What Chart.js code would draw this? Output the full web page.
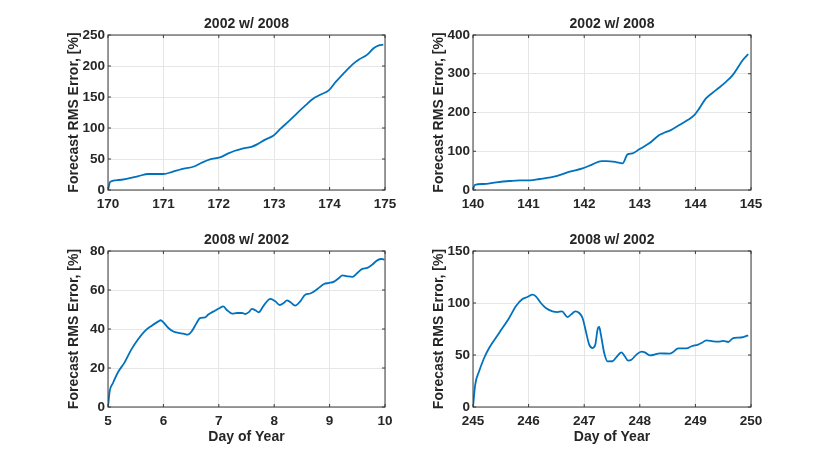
<!DOCTYPE html>
<html>
<head>
<meta charset="utf-8">
<script src="https://cdn.jsdelivr.net/npm/chart.js@4.4.1/dist/chart.umd.min.js"></script>
<style>
  html, body { margin: 0; padding: 0; background: #ffffff; }
  body { width: 830px; height: 457px; position: relative; overflow: hidden; }
  .box { position: absolute; }
  canvas { display: block; }
</style>
</head>
<body>
<div class="box" id="b0"><canvas id="c0"></canvas></div>
<div class="box" id="b1"><canvas id="c1"></canvas></div>
<div class="box" id="b2"><canvas id="c2"></canvas></div>
<div class="box" id="b3"><canvas id="c3"></canvas></div>
<script>
// ---------------- DATA ----------------
const titles = ['2002 w/ 2008', '2002 w/ 2008', '2008 w/ 2002', '2008 w/ 2002'];
const yLabel = 'Forecast RMS Error, [%]';
const xLabel = 'Day of Year';

// Top-left: 2002 w/ 2008
const tlDays = [170, 170.04, 170.19, 170.37, 170.55, 170.73, 170.85, 171.0, 171.15, 171.33, 171.54, 171.69, 171.84, 172.02, 172.17, 172.29, 172.41, 172.59, 172.7, 172.82, 172.99, 173.12, 173.27, 173.42, 173.57, 173.69, 173.84, 173.99, 174.11, 174.26, 174.41, 174.53, 174.68, 174.8, 174.89, 174.97];
const tlErr  = [0, 13.4, 16.1, 18.8, 22.5, 25.8, 25.8, 25.8, 29, 33.8, 37.5, 44, 49.4, 52.6, 59, 63.3, 66.5, 69.7, 74, 80.5, 88, 99.3, 111.6, 124.5, 136.8, 146.5, 154, 161, 174.3, 188.8, 202.3, 210.4, 218.4, 229, 233.4, 234.5];
const tlXTicks = [170, 171, 172, 173, 174, 175];
const tlYTicks = [0, 50, 100, 150, 200, 250];

// Top-right: 2002 w/ 2008
const trDays = [140, 140.03, 140.18, 140.42, 140.66, 140.84, 141.02, 141.2, 141.5, 141.74, 141.97, 142.15, 142.31, 142.4, 142.57, 142.69, 142.78, 142.87, 142.99, 143.17, 143.35, 143.44, 143.56, 143.71, 143.86, 143.98, 144.07, 144.19, 144.37, 144.55, 144.67, 144.79, 144.85, 144.95];
const trErr  = [0, 12.9, 15.5, 19.8, 23.2, 25, 25, 28.4, 36, 47.2, 55.8, 66.2, 74.7, 74.7, 72.2, 68.8, 92, 94.6, 104.9, 120.4, 141.8, 147.7, 154.6, 167.5, 180.4, 193.3, 210.6, 236.3, 257.7, 279.1, 296.4, 322.2, 335, 350.5];
const trXTicks = [140, 141, 142, 143, 144, 145];
const trYTicks = [0, 100, 200, 300, 400];

// Bottom-left: 2008 w/ 2002
const blDays = [5, 5.03, 5.09, 5.18, 5.3, 5.42, 5.54, 5.66, 5.79, 5.91, 5.95, 6.0, 6.09, 6.18, 6.27, 6.36, 6.44, 6.51, 6.6, 6.66, 6.75, 6.81, 6.93, 7.02, 7.08, 7.14, 7.24, 7.33, 7.42, 7.48, 7.54, 7.6, 7.66, 7.72, 7.81, 7.93, 8.02, 8.1, 8.17, 8.23, 8.29, 8.38, 8.47, 8.56, 8.65, 8.78, 8.9, 8.99, 9.08, 9.17, 9.23, 9.32, 9.41, 9.5, 9.59, 9.68, 9.77, 9.86, 9.94, 9.99];
const blErr  = [0, 8, 12.3, 17.8, 22.9, 29.4, 34.6, 38.8, 41.7, 43.9, 44.5, 43.4, 40.5, 38.7, 38, 37.6, 37.1, 38.8, 43.1, 45.6, 46, 47.4, 49.4, 50.8, 51.6, 49.9, 47.9, 48.2, 48.2, 47.7, 48.6, 50.3, 49.6, 48.6, 52, 55.4, 54.2, 52.3, 53.3, 54.7, 53.8, 52, 54.2, 57.6, 58.2, 60.5, 63.1, 63.6, 64.3, 66.2, 67.5, 67, 66.7, 68.7, 70.8, 71.3, 73, 75.2, 75.9, 75.6];
const blXTicks = [5, 6, 7, 8, 9, 10];
const blYTicks = [0, 20, 40, 60, 80];

// Bottom-right: 2008 w/ 2002
const brDays = [245, 245.04, 245.11, 245.2, 245.29, 245.47, 245.65, 245.77, 245.89, 245.98, 246.07, 246.13, 246.22, 246.31, 246.43, 246.52, 246.6, 246.7, 246.76, 246.84, 246.91, 246.97, 247.03, 247.09, 247.15, 247.2, 247.24, 247.27, 247.3, 247.36, 247.42, 247.51, 247.58, 247.67, 247.73, 247.79, 247.85, 247.94, 248.03, 248.09, 248.18, 248.24, 248.36, 248.54, 248.6, 248.69, 248.84, 248.93, 249.05, 249.11, 249.2, 249.32, 249.41, 249.5, 249.59, 249.68, 249.77, 249.86, 249.95];
const brErr  = [0, 21.5, 34.3, 47.1, 56.7, 71.2, 85.6, 96.8, 103.8, 105.8, 108, 106.4, 100, 95.2, 92, 91.3, 92, 86.5, 88.8, 92, 90.4, 85.6, 72.8, 60, 56.7, 60, 74.4, 76.9, 69.6, 51.9, 43.9, 44, 48, 52.6, 48.8, 44.6, 45.5, 50.4, 53.3, 52.6, 49.7, 50, 51.6, 51.3, 52.9, 56.4, 56.4, 58.4, 60, 61.5, 64.1, 63.2, 62.9, 63.5, 62.5, 66.3, 66.7, 67.3, 68.9];
const brXTicks = [245, 246, 247, 248, 249, 250];
const brYTicks = [0, 50, 100, 150];

// ---------------- LAYOUT ----------------
const FONT = 'Liberation Sans, Arial, Helvetica, sans-serif';
const TXT = '#262626';
const LINE = '#0072BD';
const GRID = '#e6e6e6';
const BOX = '#3a3a3a';
const SIDE = 108; // symmetric canvas margin so the title centres over the plot

const panels = [
  {days: tlDays, err: tlErr, xt: tlXTicks, yt: tlYTicks, top: 0,   h: 225, p: [108, 35, 385, 190], xTitle: false},
  {days: trDays, err: trErr, xt: trXTicks, yt: trYTicks, top: 0,   h: 225, p: [473, 35, 751, 190], xTitle: false},
  {days: blDays, err: blErr, xt: blXTicks, yt: blYTicks, top: 225, h: 232, p: [108, 251, 385, 407], xTitle: true},
  {days: brDays, err: brErr, xt: brXTicks, yt: brYTicks, top: 225, h: 232, p: [473, 251, 751, 407], xTitle: true}
];

const boxPlugin = {
  id: 'matlabBox',
  afterDraw(chart) {
    const {ctx, chartArea: {left, right, top, bottom}} = chart;
    const xs = chart.scales.x, ys = chart.scales.y;
    ctx.save();
    ctx.strokeStyle = BOX;
    ctx.lineWidth = 1;
    ctx.strokeRect(left, top, right - left, bottom - top);
    const L = 3;
    ctx.beginPath();
    xs.ticks.forEach(t => {
      const px = xs.getPixelForValue(t.value);
      ctx.moveTo(px, bottom); ctx.lineTo(px, bottom - L);
      ctx.moveTo(px, top); ctx.lineTo(px, top + L);
    });
    ys.ticks.forEach(t => {
      const py = ys.getPixelForValue(t.value);
      ctx.moveTo(left, py); ctx.lineTo(left + L, py);
      ctx.moveTo(right, py); ctx.lineTo(right - L, py);
    });
    ctx.stroke();
    ctx.restore();
  }
};

panels.forEach((P, i) => {
  const [px1, py1, px2, py2] = P.p;
  const cx = px1 - SIDE, cy = P.top, cw = (px2 - px1) + 2 * SIDE, ch = P.h;
  const box = document.getElementById('b' + i);
  box.style.left = cx + 'px'; box.style.top = cy + 'px';
  box.style.width = cw + 'px'; box.style.height = ch + 'px';
  const cv = document.getElementById('c' + i);
  cv.width = cw; cv.height = ch;
  cv.style.width = cw + 'px'; cv.style.height = ch + 'px';

  const titleLH = 14 * 1.2;
  const titleTop = (py1 - 10.5 - titleLH / 2) - cy;
  const titleBottom = (py1 - cy) - titleTop - titleLH;
  const yTitleTop = (px1 - 34) - cx - titleLH / 2;
  const xTitleBottom = (cy + ch) - 437 - titleLH / 2;

  new Chart(cv, {
    type: 'scatter',
    data: {
      datasets: [{
        data: P.days.map((d, k) => ({x: d, y: P.err[k]})),
        showLine: true,
        borderColor: LINE,
        backgroundColor: LINE,
        borderWidth: 1.8,
        pointRadius: 0,
        pointHoverRadius: 0,
        cubicInterpolationMode: 'monotone',
        fill: false
      }]
    },
    options: {
      responsive: false,
      animation: false,
      devicePixelRatio: 1,
      layout: {padding: 0},
      plugins: {
        legend: {display: false},
        tooltip: {enabled: false},
        title: {
          display: true,
          text: titles[i],
          color: TXT,
          font: {family: FONT, size: 14, weight: 'bold', lineHeight: 1.2},
          padding: {top: titleTop, bottom: titleBottom}
        }
      },
      scales: {
        x: {
          type: 'linear',
          min: P.xt[0], max: P.xt[P.xt.length - 1],
          afterBuildTicks: s => { s.ticks = P.xt.map(v => ({value: v})); },
          afterFit: s => { s.height = (cy + ch) - py2; },
          grid: {color: GRID, lineWidth: 1, drawTicks: false},
          border: {display: false},
          ticks: {color: TXT, padding: 6, maxRotation: 0, autoSkip: false,
                  font: {family: FONT, size: 13.5, weight: 'bold', lineHeight: 1.2}},
          title: {display: P.xTitle, text: xLabel, color: TXT,
                  font: {family: FONT, size: 14, weight: 'bold', lineHeight: 1.2},
                  padding: {top: 0, bottom: xTitleBottom}}
        },
        y: {
          type: 'linear',
          position: 'left',
          min: P.yt[0], max: P.yt[P.yt.length - 1],
          afterBuildTicks: s => { s.ticks = P.yt.map(v => ({value: v})); },
          afterFit: s => { s.width = px1 - cx; },
          grid: {color: GRID, lineWidth: 1, drawTicks: false},
          border: {display: false},
          ticks: {color: TXT, padding: 3, autoSkip: false,
                  font: {family: FONT, size: 13.5, weight: 'bold', lineHeight: 1.2}},
          title: {display: true, text: yLabel, color: TXT,
                  font: {family: FONT, size: 14, weight: 'bold', lineHeight: 1.2},
                  padding: {top: yTitleTop, bottom: 0}}
        },
        ySpacer: {
          type: 'linear',
          position: 'right',
          display: true,
          min: P.yt[0], max: P.yt[P.yt.length - 1],
          afterFit: s => { s.width = (cx + cw) - px2; },
          grid: {display: false, drawTicks: false},
          border: {display: false},
          ticks: {display: false},
          title: {display: false}
        }
      }
    },
    plugins: [boxPlugin]
  });
});
</script>
</body>
</html>
